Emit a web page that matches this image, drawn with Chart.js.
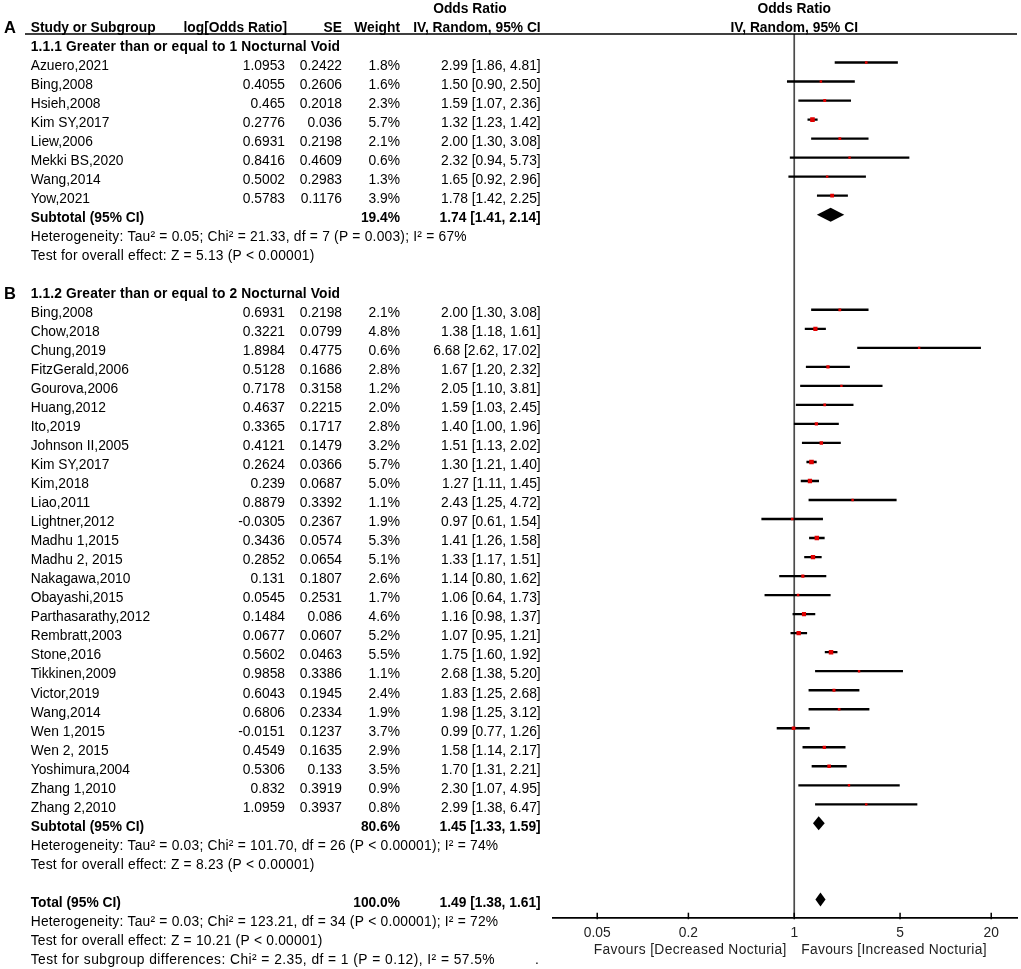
<!DOCTYPE html>
<html>
<head>
<meta charset="utf-8">
<title>Forest plot - nocturnal voids</title>
<script src="https://cdn.jsdelivr.net/npm/chart.js@4.4.1/dist/chart.umd.min.js"></script>
<style>
  html, body { margin: 0; padding: 0; background: #fff; }
  canvas { display: block; }
</style>
</head>
<body>
<canvas id="forest" width="1021" height="969"></canvas>
<script>
// --- Data ---

// 1.1.1 Greater than or equal to 1 nocturnal void
const studiesA = ['Azuero,2021', 'Bing,2008', 'Hsieh,2008', 'Kim SY,2017', 'Liew,2006',
    'Mekki BS,2020', 'Wang,2014', 'Yow,2021'];
const logOrA = [1.0953, 0.4055, 0.465, 0.2776, 0.6931, 0.8416, 0.5002, 0.5783];
const seA = [0.2422, 0.2606, 0.2018, 0.036, 0.2198, 0.4609, 0.2983, 0.1176];
const weightA = [1.8, 1.6, 2.3, 5.7, 2.1, 0.6, 1.3, 3.9];
const orA = [2.99, 1.50, 1.59, 1.32, 2.00, 2.32, 1.65, 1.78];
const lowA = [1.86, 0.90, 1.07, 1.23, 1.30, 0.94, 0.92, 1.42];
const highA = [4.81, 2.50, 2.36, 1.42, 3.08, 5.73, 2.96, 2.25];

// 1.1.2 Greater than or equal to 2 nocturnal voids
const studiesB = ['Bing,2008', 'Chow,2018', 'Chung,2019', 'FitzGerald,2006', 'Gourova,2006',
    'Huang,2012', 'Ito,2019', 'Johnson II,2005', 'Kim SY,2017', 'Kim,2018', 'Liao,2011',
    'Lightner,2012', 'Madhu 1,2015', 'Madhu 2, 2015', 'Nakagawa,2010', 'Obayashi,2015',
    'Parthasarathy,2012', 'Rembratt,2003', 'Stone,2016', 'Tikkinen,2009', 'Victor,2019',
    'Wang,2014', 'Wen 1,2015', 'Wen 2, 2015', 'Yoshimura,2004', 'Zhang 1,2010', 'Zhang 2,2010'];
const logOrB = [0.6931, 0.3221, 1.8984, 0.5128, 0.7178, 0.4637, 0.3365, 0.4121, 0.2624, 0.239,
    0.8879, -0.0305, 0.3436, 0.2852, 0.131, 0.0545, 0.1484, 0.0677, 0.5602, 0.9858, 0.6043,
    0.6806, -0.0151, 0.4549, 0.5306, 0.832, 1.0959];
const seB = [0.2198, 0.0799, 0.4775, 0.1686, 0.3158, 0.2215, 0.1717, 0.1479, 0.0366, 0.0687,
    0.3392, 0.2367, 0.0574, 0.0654, 0.1807, 0.2531, 0.086, 0.0607, 0.0463, 0.3386, 0.1945,
    0.2334, 0.1237, 0.1635, 0.133, 0.3919, 0.3937];
const weightB = [2.1, 4.8, 0.6, 2.8, 1.2, 2.0, 2.8, 3.2, 5.7, 5.0, 1.1, 1.9, 5.3, 5.1, 2.6, 1.7,
    4.6, 5.2, 5.5, 1.1, 2.4, 1.9, 3.7, 2.9, 3.5, 0.9, 0.8];
const orB = [2.00, 1.38, 6.68, 1.67, 2.05, 1.59, 1.40, 1.51, 1.30, 1.27, 2.43, 0.97, 1.41, 1.33,
    1.14, 1.06, 1.16, 1.07, 1.75, 2.68, 1.83, 1.98, 0.99, 1.58, 1.70, 2.30, 2.99];
const lowB = [1.30, 1.18, 2.62, 1.20, 1.10, 1.03, 1.00, 1.13, 1.21, 1.11, 1.25, 0.61, 1.26, 1.17,
    0.80, 0.64, 0.98, 0.95, 1.60, 1.38, 1.25, 1.25, 0.77, 1.14, 1.31, 1.07, 1.38];
const highB = [3.08, 1.61, 17.02, 2.32, 3.81, 2.45, 1.96, 2.02, 1.40, 1.45, 4.72, 1.54, 1.58, 1.51,
    1.62, 1.73, 1.37, 1.21, 1.92, 5.20, 2.68, 3.12, 1.26, 2.17, 2.21, 4.95, 6.47];

// pooled estimates: subgroup A, subgroup B, overall
const pooledLabels = ['Subtotal (95% CI)', 'Subtotal (95% CI)', 'Total (95% CI)'];
const pooledWeight = [19.4, 80.6, 100.0];
const pooledOr = [1.74, 1.45, 1.49];
const pooledLow = [1.41, 1.33, 1.38];
const pooledHigh = [2.14, 1.59, 1.61];

const notesA = ['Heterogeneity: Tau\u00b2 = 0.05; Chi\u00b2 = 21.33, df = 7 (P = 0.003); I\u00b2 = 67%',
    'Test for overall effect: Z = 5.13 (P < 0.00001)'];
const notesB = ['Heterogeneity: Tau\u00b2 = 0.03; Chi\u00b2 = 101.70, df = 26 (P < 0.00001); I\u00b2 = 74%',
    'Test for overall effect: Z = 8.23 (P < 0.00001)'];
const notesTotal = ['Heterogeneity: Tau\u00b2 = 0.03; Chi\u00b2 = 123.21, df = 34 (P < 0.00001); I\u00b2 = 72%',
    'Test for overall effect: Z = 10.21 (P < 0.00001)',
    'Test for subgroup differences: Chi\u00b2 = 2.35, df = 1 (P = 0.12), I\u00b2 = 57.5%'];

const tickValues = [0.05, 0.2, 1, 5, 20];
const tickLabels = ['0.05', '0.2', '1', '5', '20'];

// --- Row layout (one row per text line) ---

const rowHeadA = 0;
const rowsA = studiesA.map((_, i) => rowHeadA + 1 + i);
const rowSubA = rowHeadA + studiesA.length + 1;
const rowHeadB = rowSubA + 4;
const rowsB = studiesB.map((_, i) => rowHeadB + 1 + i);
const rowSubB = rowHeadB + studiesB.length + 1;
const rowTotal = rowSubB + 4;
const pooledRows = [rowSubA, rowSubB, rowTotal];

const FONT = "'Liberation Sans', Arial, sans-serif";
const FS = 13.8;
const TEXT_SHIFT = 3.5; // text sits slightly below its plotted mark
const MARK_RED = '#e00000';

const allOr = orA.concat(orB);
const allLow = lowA.concat(lowB);
const allHigh = highA.concat(highB);
const allWeight = weightA.concat(weightB);
const allRows = rowsA.concat(rowsB);

// box area proportional to study weight (rect radius -> side = radius * sqrt2)
const boxRadius = allWeight.map(w => Math.max(2.4, 4.6 * Math.sqrt(w / 5.7)) / Math.SQRT2);

// --- Table, diamonds and decorations ---

const forestPlugin = {
    id: 'forestPlugin',
    beforeDatasetsDraw(chart) {
        const { ctx, chartArea, scales } = chart;
        const x1 = scales.x.getPixelForValue(1);
        ctx.save();
        // line of no effect
        ctx.strokeStyle = '#4a4a4a';
        ctx.lineWidth = 1.7;
        ctx.beginPath();
        ctx.moveTo(x1, chartArea.top);
        ctx.lineTo(x1, chartArea.bottom);
        ctx.stroke();
        ctx.restore();
    },
    afterDraw(chart) {
        const { ctx, chartArea, scales } = chart;
        const xs = scales.x, ys = scales.y;
        const rowY = r => ys.getPixelForValue(r) + TEXT_SHIFT;

        ctx.save();

        // header underline
        ctx.strokeStyle = '#000';
        ctx.lineWidth = 1.6;
        ctx.beginPath();
        ctx.moveTo(25, chartArea.top);
        ctx.lineTo(chartArea.right, chartArea.top);
        ctx.stroke();

        // pooled diamonds
        ctx.fillStyle = '#000';
        pooledOr.forEach((v, i) => {
            const y = ys.getPixelForValue(pooledRows[i]);
            const h = 7;
            ctx.beginPath();
            ctx.moveTo(xs.getPixelForValue(pooledLow[i]), y);
            ctx.lineTo(xs.getPixelForValue(v), y - h);
            ctx.lineTo(xs.getPixelForValue(pooledHigh[i]), y);
            ctx.lineTo(xs.getPixelForValue(v), y + h);
            ctx.closePath();
            ctx.fill();
        });

        // axis tick marks pointing up
        ctx.strokeStyle = '#000';
        ctx.lineWidth = 1.5;
        xs.ticks.forEach(t => {
            const px = xs.getPixelForValue(t.value);
            ctx.beginPath();
            ctx.moveTo(px, chartArea.bottom - 5);
            ctx.lineTo(px, chartArea.bottom + 1.5);
            ctx.stroke();
        });

        const put = (str, x, y, align, bold, size, spacing) => {
            ctx.font = (bold ? 'bold ' : '') + (size || FS) + 'px ' + FONT;
            ctx.letterSpacing = (spacing || 0) + 'px';
            ctx.textAlign = align;
            ctx.textBaseline = 'middle';
            ctx.fillText(str, x, y);
        };

        const x1 = xs.getPixelForValue(1);

        // favours labels
        ctx.fillStyle = '#222';
        put('Favours [Decreased Nocturia]', x1 - 7.5, 950, 'right', false, FS, 0.35);
        put('Favours [Increased Nocturia]', x1 + 7, 950, 'left', false, FS, 0.3);

        ctx.fillStyle = '#000';
        const colName = 30.7, colLog = 285, colSe = 342, colW = 400, colCi = 540.7;

        // column headers
        put('Odds Ratio', 470, rowY(-2), 'center', true);
        put('Odds Ratio', x1, rowY(-2), 'center', true);
        put('A', 4, rowY(-1), 'left', true, 16.5);
        put('Study or Subgroup', colName, rowY(-1), 'left', true);
        put('log[Odds Ratio]', 287, rowY(-1), 'right', true);
        put('SE', colSe, rowY(-1), 'right', true);
        put('Weight', colW, rowY(-1), 'right', true);
        put('IV, Random, 95% CI', colCi, rowY(-1), 'right', true);
        put('IV, Random, 95% CI', x1, rowY(-1), 'center', true);

        const ciText = (o, l, h) => o.toFixed(2) + ' [' + l.toFixed(2) + ', ' + h.toFixed(2) + ']';

        const studyRows = (names, logs, ses, ws, ors, lows, highs, rows) => {
            names.forEach((n, i) => {
                const y = rowY(rows[i]);
                put(n, colName, y, 'left', false);
                put(String(logs[i]), colLog, y, 'right', false);
                put(String(ses[i]), colSe, y, 'right', false);
                put(ws[i].toFixed(1) + '%', colW, y, 'right', false);
                put(ciText(ors[i], lows[i], highs[i]), colCi, y, 'right', false);
            });
        };

        const pooledRow = i => {
            const y = rowY(pooledRows[i]);
            put(pooledLabels[i], colName, y, 'left', true);
            put(pooledWeight[i].toFixed(1) + '%', colW, y, 'right', true);
            put(ciText(pooledOr[i], pooledLow[i], pooledHigh[i]), colCi, y, 'right', true);
        };

        const noteLines = (lines, firstRow) => {
            lines.forEach((s, i) => put(s, colName, rowY(firstRow + i), 'left', false, FS, 0.22));
        };

        // subgroup A
        put('1.1.1 Greater than or equal to 1 Nocturnal Void', colName, rowY(rowHeadA), 'left', true, FS, 0.13);
        studyRows(studiesA, logOrA, seA, weightA, orA, lowA, highA, rowsA);
        pooledRow(0);
        noteLines(notesA, rowSubA + 1);

        // subgroup B
        put('B', 4, rowY(rowHeadB), 'left', true, 16.5);
        put('1.1.2 Greater than or equal to 2 Nocturnal Void', colName, rowY(rowHeadB), 'left', true, FS, 0.13);
        studyRows(studiesB, logOrB, seB, weightB, orB, lowB, highB, rowsB);
        pooledRow(1);
        noteLines(notesB, rowSubB + 1);

        // overall
        pooledRow(2);
        noteLines(notesTotal.slice(0, 2), rowTotal + 1);
        put(notesTotal[2], colName, rowY(rowTotal + 3), 'left', false, FS, 0.45);
        put('.', 535, rowY(rowTotal + 3), 'left', false);

        ctx.restore();
    }
};

// --- Chart ---

Chart.defaults.font.family = FONT;
Chart.defaults.font.size = FS;
Chart.defaults.color = '#222';

const ctx = document.getElementById('forest').getContext('2d');
const forestChart = new Chart(ctx, {
    type: 'scatter',
    data: {
        datasets: [{
            type: 'scatter',
            label: 'Odds ratio',
            data: allOr.map((v, i) => ({ x: v, y: allRows[i] })),
            pointStyle: 'rect',
            pointRadius: boxRadius,
            backgroundColor: MARK_RED,
            borderWidth: 0,
            order: 1
        }, {
            type: 'bar',
            label: '95% CI',
            indexAxis: 'y',
            data: allLow.map((v, i) => ({ x: [v, allHigh[i]], y: allRows[i] })),
            backgroundColor: '#000',
            barThickness: 1.7,
            order: 2
        }]
    },
    plugins: [forestPlugin],
    options: {
        responsive: false,
        animation: false,
        events: [],
        layout: { padding: { left: 552.7, right: 4, top: 34, bottom: 21.3 } },
        scales: {
            x: {
                type: 'logarithmic',
                position: 'bottom',
                offset: false,
                min: 0.0254,
                max: 29.6,
                afterBuildTicks: scale => {
                    scale.ticks = tickValues.map(v => ({ value: v }));
                },
                afterFit: scale => { scale.height = 30; },
                ticks: {
                    autoSkip: false,
                    maxRotation: 0,
                    padding: 7,
                    color: '#222',
                    callback: (value, index) => tickLabels[index]
                },
                grid: { display: false, drawTicks: false },
                border: { display: true, color: '#000', width: 1.8 }
            },
            y: {
                type: 'linear',
                display: false,
                offset: false,
                reverse: true,
                min: -0.5,
                max: 45.96
            }
        },
        plugins: {
            legend: { display: false },
            tooltip: { enabled: false }
        }
    }
});
</script>
</body>
</html>
